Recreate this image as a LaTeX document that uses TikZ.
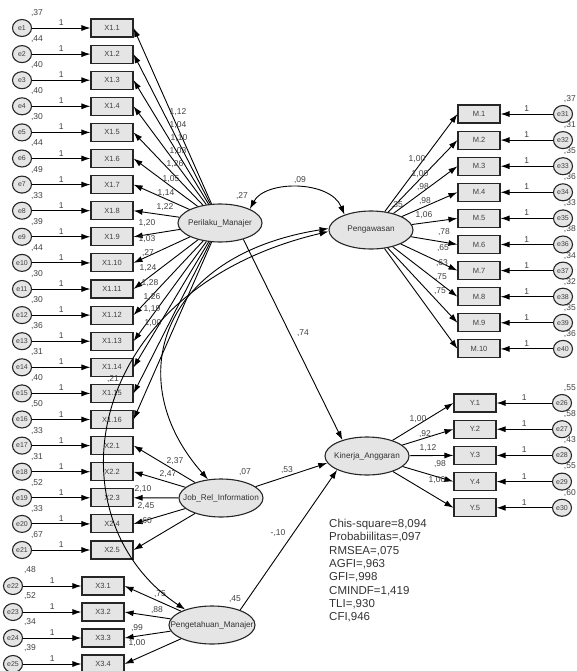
\documentclass[tikz,border=0pt]{standalone}
\usepackage{fontspec}
\setmainfont{Liberation Sans}
\usetikzlibrary{arrows.meta,shapes.geometric,calc}

\begin{document}
\begin{tikzpicture}[x=1pt,y=-1pt,
    obs/.style={draw=black!85,fill=black!10,line width=1.1pt,minimum width=42pt,minimum height=18pt,inner sep=0pt,text=black!75,font=\fontsize{7.5}{8}\selectfont},
    lat/.style={ellipse,draw=black!85,fill=black!10,line width=1.1pt,minimum width=84pt,minimum height=38pt,inner sep=0pt},
    latlab/.style={text=black!80,font=\fontsize{8.2}{9}\selectfont,inner sep=0pt},
    err/.style={ellipse,draw=black!85,fill=black!10,line width=1.1pt,minimum width=19pt,minimum height=17pt,inner sep=0pt,text=black!75,font=\fontsize{7}{8}\selectfont},
    reg/.style={line width=0.9pt,-{Latex[length=9pt,width=6pt]}},
    cov/.style={line width=0.9pt,{Latex[length=9pt,width=6pt]}-{Latex[length=9pt,width=6pt]}},
    lab/.style={text=black!75,font=\fontsize{8.5}{9}\selectfont,inner sep=0pt},
    stat/.style={text=black!80,font=\fontsize{11.5}{13.3}\selectfont,inner sep=0pt,align=left,anchor=north west}]

    \useasboundingbox (0,0) rectangle (576,671);

    % Latent variables
    \node[lat,label={[latlab]center:Perilaku\_Manajer}] (per) at (220,223) {};
    \node[lat,label={[latlab]center:Pengawasan}] (pen) at (371,230) {};
    \node[lat,label={[latlab]center:Kinerja\_Anggaran}] (kin) at (367,456) {};
    \node[lat,label={[latlab]center:Job\_Rel\_Information}] (job) at (221,498) {};
    \node[lat,minimum width=86pt,label={[latlab]center:Pengetahuan\_Manajer}] (pgt) at (212,625) {};

    % X1 indicators
    \foreach \i/\v in {1/37,2/44,3/40,4/40,5/30,6/44,7/49,8/33,9/39,10/44,11/30,12/30,13/36,14/31,15/40,16/50} {
        \node[obs] (x1-\i) at (112,{28+26.1*(\i-1)}) {X1.\i};
        \node[err] (e\i) at (22,{28+26.1*(\i-1)}) {e\i};
        \draw[reg] (e\i) -- (x1-\i) node[lab,midway,above=2pt] {1};
        \node[lab] at ($(e\i)+(15,-15)$) {,\v};
    }

    % X2 indicators
    \foreach \j/\v [evaluate=\j as \k using int(\j+16)] in {1/33,2/31,3/52,4/33,5/67} {
        \node[obs] (x2-\j) at (112,{28+26.1*(\j+15)}) {X2.\j};
        \node[err] (e\k) at (22,{28+26.1*(\j+15)}) {e\k};
        \draw[reg] (e\k) -- (x2-\j) node[lab,midway,above=2pt] {1};
        \node[lab] at ($(e\k)+(15,-15)$) {,\v};
    }

    % X3 indicators
    \foreach \j/\v [evaluate=\j as \k using int(\j+21)] in {1/48,2/52,3/34,4/39} {
        \node[obs] (x3-\j) at (103,{586+26*(\j-1)}) {X3.\j};
        \node[err] (e\k) at (13,{586+26*(\j-1)}) {e\k};
        \draw[reg] (e\k) -- (x3-\j) node[lab,midway,above=2pt] {1};
        \node[lab] at ($(e\k)+(17,-16)$) {,\v};
    }

    % M indicators
    \foreach \j/\v [evaluate=\j as \k using int(\j+30)] in {1/37,2/31,3/35,4/36,5/33,6/38,7/34,8/32,9/35,10/36} {
        \node[obs] (m\j) at (479,{114+26.1*(\j-1)}) {M.\j};
        \node[err] (e\k) at (563,{114+26.1*(\j-1)}) {e\k};
        \draw[reg] (e\k) -- (m\j) node[lab,midway,above=2pt] {1};
        \node[lab,anchor=east] at (576,{114+26.1*(\j-1)-15}) {,\v};
    }

    % Y indicators
    \foreach \j/\v [evaluate=\j as \k using int(\j+25)] in {1/55,2/58,3/43,4/55,5/60} {
        \node[obs] (y\j) at (475,{403+26.2*(\j-1)}) {Y.\j};
        \node[err] (e\k) at (562,{403+26.2*(\j-1)}) {e\k};
        \draw[reg] (e\k) -- (y\j) node[lab,midway,above=2pt] {1};
        \node[lab,anchor=east] at (576,{403+26.2*(\j-1)-15}) {,\v};
    }

    % Loadings
    \foreach \i/\lx/\ly/\v in {1/178/112/{1,12},2/178/125/{1,04},3/179/138/{1,10},4/178/151/{1,03},5/175/164/{1,26},6/171/179/{1,05},7/166/193/{1,14},8/165/207/{1,22},9/147/223/{1,20},10/147/239/{1,03},11/148/253/{,27},12/148/268/{1,24},13/150/283/{1,28},14/152/297/{1,26},15/152/309/{1,19},16/153/323/{1,00}} {
        \draw[reg] (per) -- (x1-\i.east);
        \node[lab] at (\lx,\ly) {\v};
    }
    \foreach \j/\lx/\ly/\v in {1/175/461/{2,37},2/168/474/{2,47},3/143/489/{2,10},4/146/506/{2,45},5/146/521/{,60}} {
        \draw[reg] (job) -- (x2-\j.east);
        \node[lab] at (\lx,\ly) {\v};
    }
    \foreach \j/\lx/\ly/\v in {1/160/594/{,75},2/157/610/{,88},3/137/628/{,99},4/137/643/{1,00}} {
        \draw[reg] (pgt) -- (x3-\j.east);
        \node[lab] at (\lx,\ly) {\v};
    }
    \foreach \j/\lx/\ly/\v in {1/417/159/{1,00},2/420/174/{1,00},3/423/187/{,98},4/425/201/{,98},5/424/215/{1,06},6/444/232/{,78},7/443/248/{,65},8/442/263/{,63},9/441/277/{,75},10/440/291/{,75}} {
        \draw[reg] (pen) -- (m\j.west);
        \node[lab] at (\lx,\ly) {\v};
    }
    \foreach \j/\lx/\ly/\v in {1/418/419/{1,00},2/425/434/{,92},3/428/448/{1,12},4/440/464/{,98},5/437/480/{1,00}} {
        \draw[reg] (kin) -- (y\j.west);
        \node[lab] at (\lx,\ly) {\v};
    }

    % Structural paths
    \draw[reg] (per.-35) -- (kin.147);
    \draw[reg] (job) -- (kin.190);
    \draw[reg] (pgt.28) -- (kin.205);
    \node[lab] at (303,333) {,74};
    \node[lab] at (287,470) {,53};
    \node[lab] at (278,533) {-,10};

    % Covariances
    \draw[cov] (per.25) .. controls (265,180) and (330,180) .. (pen.150);
    \draw[cov] (job.125) .. controls (120,380) and (160,255) .. (pen.178);
    \draw[cov] (pgt.150) .. controls (50,520) and (80,290) .. (pen.182);
    \node[lab] at (300,180) {,09};
    \node[lab] at (113,379) {,21};

    % Variances of latents
    \node[lab] at (242,196) {,27};
    \node[lab] at (397,205) {,35};
    \node[lab] at (245,472) {,07};
    \node[lab] at (235,599) {,45};

    % Fit
    \node[stat] (fit) at (329,519) {Chis-square=8,094\\Probabiilitas=,097\\RMSEA=,075\\AGFI=,963\\GFI=,998\\CMINDF=1,419\\TLI=,930\\CFI,946};
\end{tikzpicture}
\end{document}
